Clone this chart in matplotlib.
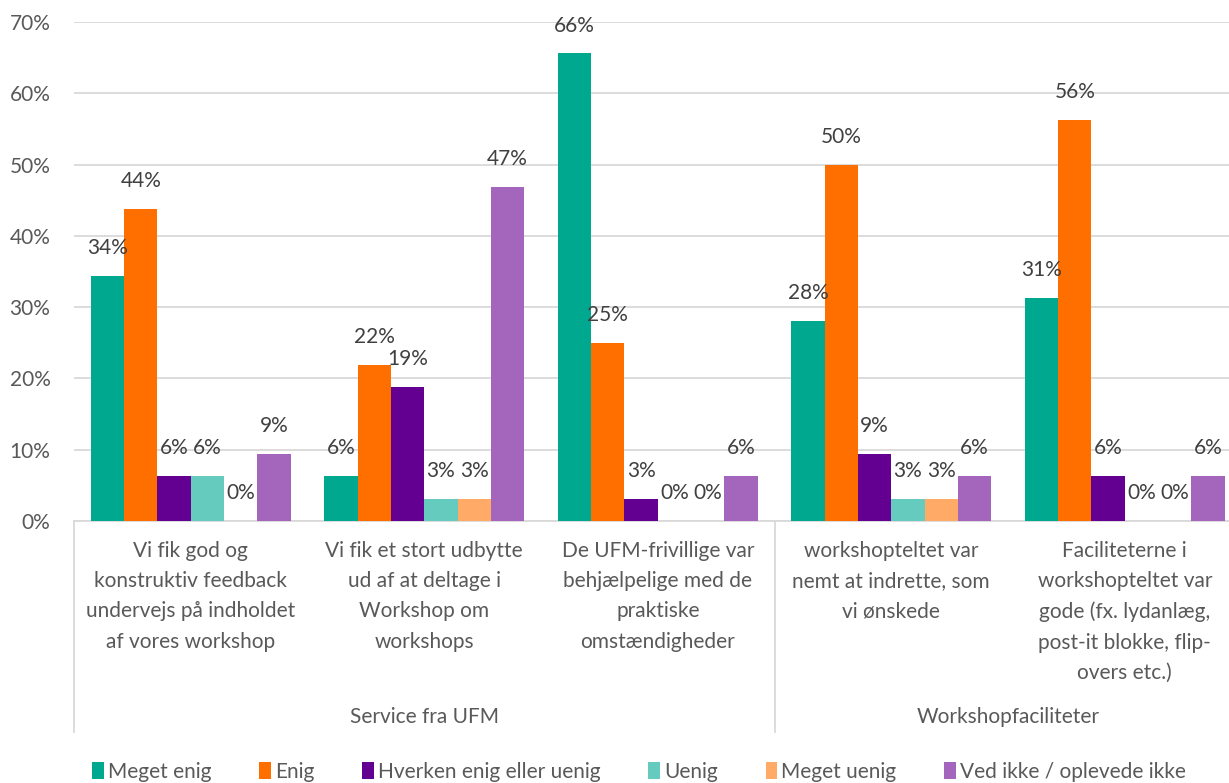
import numpy as np
import matplotlib
matplotlib.use("Agg")
import matplotlib.pyplot as plt
from matplotlib.lines import Line2D

# ----------------------------------------------------------
# Data
# ----------------------------------------------------------

kategorier = [
    "Vi fik god og\nkonstruktiv feedback\nundervejs på indholdet\naf vores workshop",
    "Vi fik et stort udbytte\nud af at deltage i\nWorkshop om\nworkshops",
    "De UFM-frivillige var\nbehjælpelige med de\npraktiske\nomstændigheder",
    "workshopteltet var\nnemt at indrette, som\nvi ønskede",
    "Faciliteterne i\nworkshopteltet var\ngode (fx. lydanlæg,\npost-it blokke, flip-\novers etc.)",
]

grupper = ["Service fra UFM", "Workshopfaciliteter"]
gruppe_str = [3, 2]

serier = ["Meget enig", "Enig", "Hverken enig eller uenig", "Uenig",
          "Meget uenig", "Ved ikke / oplevede ikke"]

meget_enig = [34.4, 6.3, 65.6, 28.1, 31.3]
enig = [43.8, 21.9, 25.0, 50.0, 56.3]
hverken = [6.3, 18.8, 3.1, 9.4, 6.3]
uenig = [6.3, 3.1, 0.0, 3.1, 0.0]
meget_uenig = [0.0, 3.1, 0.0, 3.1, 0.0]
ved_ikke = [9.4, 46.9, 6.3, 6.3, 6.3]

farver = ["#00A890", "#FF6F00", "#640091", "#66CBBF", "#FFAA66", "#A366BC"]

vaerdier = [meget_enig, enig, hverken, uenig, meget_uenig, ved_ikke]

# ----------------------------------------------------------
# Figure
# ----------------------------------------------------------

plt.rcParams["font.family"] = ["Lato", "DejaVu Sans"]
FS = 15

fig = plt.figure(figsize=(12.29, 7.83), dpi=100)
ax = fig.add_axes([74 / 1229, 1 - 521 / 783, 1167.5 / 1229, 499 / 783])

x = np.arange(len(kategorier))
bredde = 0.1427
n = len(serier)

for i, (navn, v, f) in enumerate(zip(serier, vaerdier, farver)):
    pos = x + (i - (n - 1) / 2) * bredde
    ax.bar(pos, v, width=bredde, color=f, label=navn, zorder=3)
    for px, val in zip(pos, v):
        ax.annotate(f"{round(val):.0f}%", (px, val),
                    xytext=(0, 20), textcoords="offset points",
                    ha="center", va="center", fontsize=FS,
                    color="#404040", zorder=4)

ax.set_xlim(-0.5, len(kategorier) - 0.5)
ax.set_ylim(0, 70)
ax.set_yticks(np.arange(0, 71, 10))
ax.set_yticklabels([f"{t}%" for t in range(0, 71, 10)])
ax.tick_params(axis="y", length=0, labelsize=FS, labelcolor="#595959", pad=17)
ax.tick_params(axis="x", length=0, labelbottom=False)

ax.grid(axis="y", color="#D9D9D9", linewidth=1.3, zorder=0)
for s in ["top", "right", "left"]:
    ax.spines[s].set_visible(False)
ax.spines["bottom"].set_color("#D9D9D9")
ax.spines["bottom"].set_linewidth(1.3)

trans = ax.get_xaxis_transform()

# kategori-tekster
for xi, tekst in zip(x, kategorier):
    ax.text(xi, -0.04, tekst, transform=trans, ha="center", va="top",
            fontsize=FS, color="#595959", linespacing=1.64)

# gruppe-tekster og skillelinjer
start = 0
for navn, antal in zip(grupper, gruppe_str):
    midt = start + (antal - 1) / 2
    ax.text(midt, -0.393, navn, transform=trans, ha="center", va="center",
            fontsize=FS, color="#595959")
    start += antal

grænser = [-0.5] + list(np.cumsum(gruppe_str) - 0.5)
for g in grænser:
    ax.add_line(Line2D([g, g], [0, -0.423], transform=trans, color="#D9D9D9",
                       linewidth=1.3, clip_on=False))

fig.legend(loc="center", bbox_to_anchor=(0.52, 1 - 772 / 783), ncol=6,
           frameon=False, fontsize=FS, handlelength=0.55, handleheight=0.9,
           handletextpad=0.2, columnspacing=2.3, labelcolor="#595959")

fig.savefig("out.png", dpi=100)
